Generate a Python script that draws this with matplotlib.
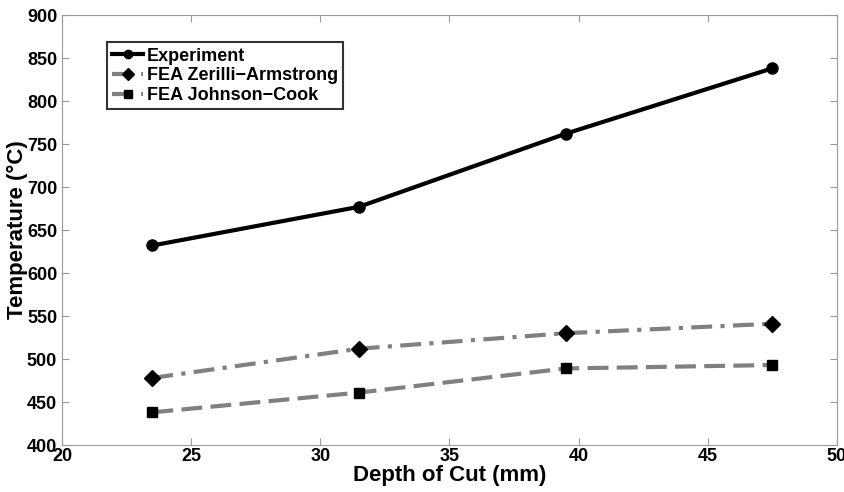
import numpy as np
import matplotlib.pyplot as plt

plt.rcParams['font.family'] = ['Liberation Sans', 'DejaVu Sans']
plt.rcParams['font.weight'] = 'bold'

# 数据
depth = [23.5, 31.5, 39.5, 47.5]
experiment = [632, 677, 762, 838]
fea_za = [478, 512, 530, 541]
fea_jc = [438, 461, 489, 493]

fig = plt.figure(figsize=(8.45, 4.92), dpi=100)
ax = fig.add_axes([0.0734, 0.0955, 0.9171, 0.874])

ax.plot(depth, experiment, color='black', linestyle='-', linewidth=3,
        marker='o', markersize=8, markerfacecolor='black', label='Experiment')
ax.plot(depth, fea_za, color='#808080', linestyle=(0, (5, 2, 1, 2)), linewidth=3,
        marker='D', markersize=8, markerfacecolor='black', markeredgecolor='black',
        label='FEA Zerilli\u2212Armstrong')
ax.plot(depth, fea_jc, color='#808080', linestyle=(0, (5, 2)), linewidth=3,
        marker='s', markersize=7, markerfacecolor='black', markeredgecolor='black',
        label='FEA Johnson\u2212Cook')

ax.set_xlim(20, 50)
ax.set_ylim(400, 900)
ax.set_xticks(np.arange(20, 51, 5))
ax.set_yticks(np.arange(400, 901, 50))

for s in ax.spines.values():
    s.set_color('#999999')
ax.tick_params(direction='in', length=5, color='#999999', labelsize=13,
               top=True, right=True, labeltop=False, labelright=False)
ax.tick_params(axis='x', pad=2)

ax.set_xlabel('Depth of Cut (mm)', fontsize=16, fontweight='bold', labelpad=0)
ax.set_ylabel('Temperature (°C)', fontsize=16, fontweight='bold', labelpad=-1)

leg = ax.legend(loc='upper left', bbox_to_anchor=(0.058, 0.937), fontsize=13,
                frameon=True, fancybox=False, edgecolor='black', handlelength=1.7,
                borderpad=0.3, labelspacing=0.15, handletextpad=0.2,
                borderaxespad=0, markerscale=0.75)
leg.get_frame().set_linewidth(1.5)

plt.savefig('out.png', dpi=100)
